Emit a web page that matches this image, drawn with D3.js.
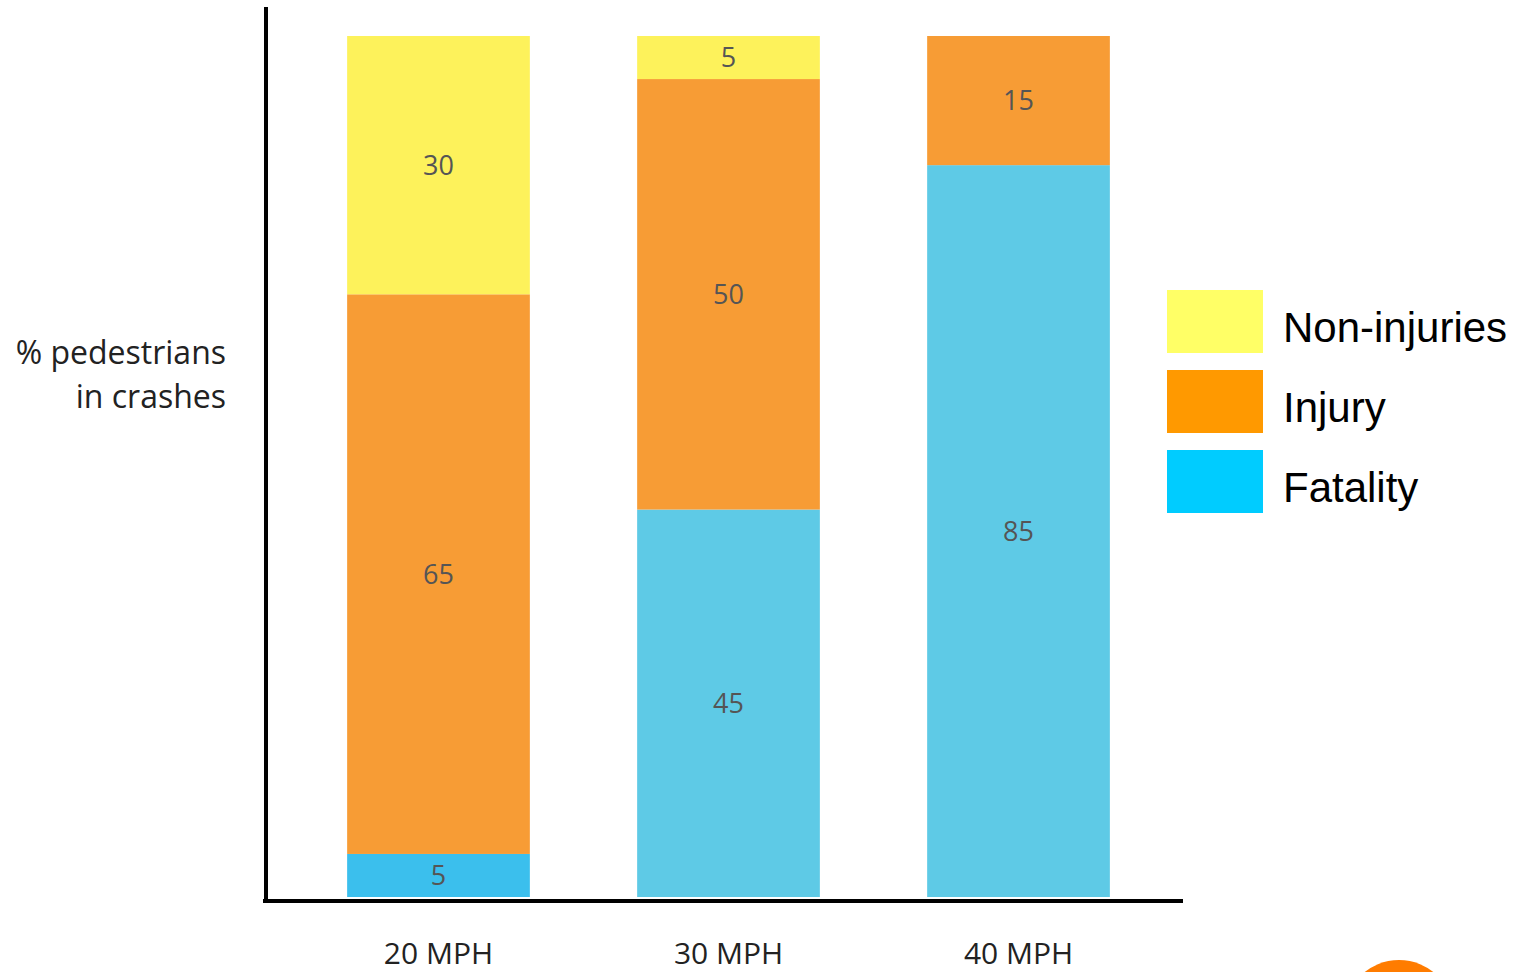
<!DOCTYPE html>
<html>
<head>
<meta charset="utf-8">
<script src="https://cdn.jsdelivr.net/npm/d3@7"></script>
<style>
  html, body { margin: 0; padding: 0; background: #ffffff; }
  svg { display: block; }
</style>
</head>
<body>
<svg id="chart" width="1522" height="972"></svg>
<script>
// Speed categories and outcome shares (% of pedestrians in crashes)
const speeds = ["20 MPH", "30 MPH", "40 MPH"];
const fatality = [5, 45, 85];
const injury = [65, 50, 15];
const nonInjury = [30, 5, 0];

const seriesNames = ["Fatality", "Injury", "Non-injuries"];
const barColors = ["#5ecae6", "#f79c35", "#fdf25b"];
const legendNames = ["Non-injuries", "Injury", "Fatality"];
const legendColors = ["#ffff66", "#ff9900", "#00ccff"];
const yAxisLines = ["% pedestrians", "in crashes"];

const rows = speeds.map((s, i) => ({
  speed: s,
  "Fatality": fatality[i],
  "Injury": injury[i],
  "Non-injuries": nonInjury[i]
}));

const svg = d3.select("#chart");

const x = d3.scaleBand()
  .domain(speeds)
  .range([270, 1187])
  .paddingInner(0.37)
  .paddingOuter(0.266);

const y = d3.scaleLinear().domain([0, 100]).range([897, 36]);

const stack = d3.stack().keys(seriesNames);
const layers = stack(rows);

const color = d3.scaleOrdinal().domain(seriesNames).range(barColors);

const chartFont = "'Open Sans', 'Noto Sans', sans-serif";

// stacked bars
const groups = svg.append("g").selectAll("g")
  .data(layers)
  .join("g")
  .attr("fill", d => color(d.key));

groups.selectAll("rect")
  .data(d => d.map(p => Object.assign(p, { key: d.key })))
  .join("rect")
  .filter(d => d[1] - d[0] > 0)
  .attr("x", d => x(d.data.speed))
  .attr("width", x.bandwidth())
  .attr("y", d => y(d[1]))
  .attr("height", d => y(d[0]) - y(d[1]))
  // the thin fatality slice at 20 MPH is a slightly brighter blue
  .attr("fill", d => (d.key === "Fatality" && d.data.speed === "20 MPH") ? "#3bbfed" : null);

// value labels inside each segment
const labels = [];
layers.forEach(layer => {
  layer.forEach(p => {
    const v = p[1] - p[0];
    if (v > 0) labels.push({ speed: p.data.speed, mid: (p[0] + p[1]) / 2, value: v });
  });
});

svg.append("g").selectAll("text")
  .data(labels)
  .join("text")
  .attr("x", d => x(d.speed) + x.bandwidth() / 2)
  .attr("y", d => y(d.mid))
  .attr("dy", "0.36em")
  .attr("text-anchor", "middle")
  .attr("font-family", chartFont)
  .attr("font-size", 27)
  .attr("fill", "#555555")
  .text(d => d.value);

// axes: heavy black baseline and left rule
const xAxis = d3.axisBottom(x).tickSize(0).tickPadding(0);
const gx = svg.append("g")
  .attr("transform", "translate(0,901)")
  .call(xAxis);
gx.select(".domain").remove();
gx.selectAll("text")
  .attr("y", 63)
  .attr("dy", 0)
  .attr("font-family", chartFont)
  .attr("font-size", 30)
  .attr("fill", "#222222");

svg.append("line")
  .attr("x1", 263).attr("x2", 1183)
  .attr("y1", 901).attr("y2", 901)
  .attr("stroke", "#000").attr("stroke-width", 4);

svg.append("line")
  .attr("x1", 266).attr("x2", 266)
  .attr("y1", 7).attr("y2", 903)
  .attr("stroke", "#000").attr("stroke-width", 4);

// y-axis caption
svg.append("g").selectAll("text")
  .data(yAxisLines)
  .join("text")
  .attr("x", 226)
  .attr("y", (d, i) => 364 + i * 44)
  .attr("text-anchor", "end")
  .attr("font-family", chartFont)
  .attr("font-size", 32)
  .attr("fill", "#222222")
  .text(d => d);

// legend
const legend = svg.append("g").selectAll("g")
  .data(legendNames)
  .join("g")
  .attr("transform", (d, i) => `translate(1167,${290 + i * 80})`);

legend.append("rect")
  .attr("width", 96)
  .attr("height", 63)
  .attr("fill", (d, i) => legendColors[i]);

legend.append("text")
  .attr("x", 116)
  .attr("y", 52)
  .attr("font-family", "'Liberation Sans', Arial, sans-serif")
  .attr("font-size", 42)
  .attr("fill", "#000")
  .text(d => d);

// orange badge peeking in at the bottom edge
svg.append("circle")
  .attr("cx", 1399)
  .attr("cy", 1015)
  .attr("r", 55)
  .attr("fill", "#ff7c00");
</script>
</body>
</html>
